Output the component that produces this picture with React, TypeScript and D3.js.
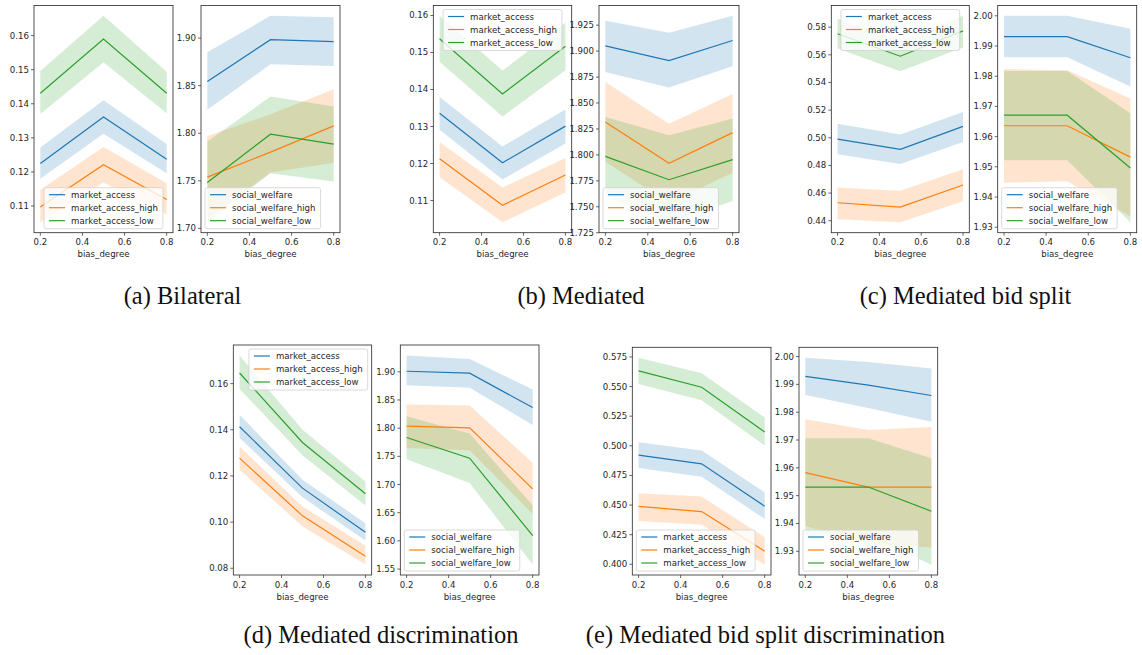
import { useEffect, useRef } from 'react';
import * as d3 from 'd3';

type Series = { name: string; mean: number[]; lower: number[]; upper: number[] };

const BIAS_DEGREE = [0.2, 0.5, 0.8];
const X_TICKS = [0.2, 0.4, 0.6, 0.8];
const COLORS = ['#1f77b4', '#ff7f0e', '#2ca02c'];

// (a) Bilateral
const bilateralMarket: Series[] = [
  { name: 'market_access', mean: [0.1225, 0.1361, 0.1237], lower: [0.118, 0.1312, 0.1196], upper: [0.1272, 0.141, 0.1282] },
  { name: 'market_access_high', mean: [0.1097, 0.1221, 0.1119], lower: [0.1052, 0.1169, 0.1075], upper: [0.1148, 0.1273, 0.1167] },
  { name: 'market_access_low', mean: [0.1431, 0.159, 0.1431], lower: [0.137, 0.1522, 0.1372], upper: [0.1496, 0.1658, 0.1494] },
];
const bilateralWelfare: Series[] = [
  { name: 'social_welfare', mean: [1.8545, 1.8983, 1.8962], lower: [1.8248, 1.8724, 1.8706], upper: [1.885, 1.9234, 1.922] },
  { name: 'social_welfare_high', mean: [1.7538, 1.7801, 1.8077], lower: [1.711, 1.7587, 1.7689], upper: [1.7969, 1.82, 1.8462] },
  { name: 'social_welfare_low', mean: [1.7483, 1.799, 1.7885], lower: [1.7063, 1.758, 1.7493], upper: [1.7913, 1.8385, 1.828] },
];

// (b) Mediated
const mediatedMarket: Series[] = [
  { name: 'market_access', mean: [0.1336, 0.1202, 0.1301], lower: [0.1291, 0.1157, 0.1254], upper: [0.138, 0.1246, 0.1346] },
  { name: 'market_access_high', mean: [0.1213, 0.1087, 0.1169], lower: [0.1163, 0.1041, 0.1122], upper: [0.1258, 0.1135, 0.1215] },
  { name: 'market_access_low', mean: [0.1537, 0.1388, 0.1517], lower: [0.1475, 0.1327, 0.1452], upper: [0.1599, 0.1451, 0.158] },
];
const mediatedWelfare: Series[] = [
  { name: 'social_welfare', mean: [1.9051, 1.8909, 1.9102], lower: [1.88, 1.8649, 1.8854], upper: [1.9292, 1.9176, 1.934] },
  { name: 'social_welfare_high', mean: [1.8317, 1.7919, 1.8215], lower: [1.7935, 1.754, 1.7829], upper: [1.8703, 1.8301, 1.8588] },
  { name: 'social_welfare_low', mean: [1.7986, 1.7761, 1.7954], lower: [1.7606, 1.735, 1.7555], upper: [1.8366, 1.8189, 1.835] },
];

// (c) Mediated bid split
const bidSplitMarket: Series[] = [
  { name: 'market_access', mean: [0.499, 0.4916, 0.5082], lower: [0.488, 0.481, 0.4969], upper: [0.5101, 0.5024, 0.5186] },
  { name: 'market_access_high', mean: [0.453, 0.4499, 0.4658], lower: [0.441, 0.4388, 0.454], upper: [0.4641, 0.4617, 0.4773] },
  { name: 'market_access_low', mean: [0.5752, 0.559, 0.5773], lower: [0.5645, 0.5482, 0.5653], upper: [0.586, 0.5698, 0.5882] },
];
const bidSplitWelfare: Series[] = [
  { name: 'social_welfare', mean: [1.9931, 1.9931, 1.9861], lower: [1.9863, 1.9863, 1.9766], upper: [2.0, 2.0, 1.9957] },
  { name: 'social_welfare_high', mean: [1.9636, 1.9636, 1.9532], lower: [1.9447, 1.9452, 1.9336], upper: [1.9824, 1.982, 1.9726] },
  { name: 'social_welfare_low', mean: [1.9671, 1.9671, 1.9496], lower: [1.9522, 1.9522, 1.9316], upper: [1.9817, 1.9817, 1.9677] },
];

// (d) Mediated discrimination
const discriminationMarket: Series[] = [
  { name: 'market_access', mean: [0.1413, 0.1147, 0.0956], lower: [0.1364, 0.1108, 0.092], upper: [0.1465, 0.1183, 0.0995] },
  { name: 'market_access_high', mean: [0.1277, 0.1027, 0.0852], lower: [0.1227, 0.0981, 0.0816], upper: [0.1327, 0.1068, 0.0897] },
  { name: 'market_access_low', mean: [0.1646, 0.1345, 0.1123], lower: [0.1577, 0.129, 0.1072], upper: [0.1722, 0.14, 0.1176] },
];
const discriminationWelfare: Series[] = [
  { name: 'social_welfare', mean: [1.901, 1.8975, 1.8365], lower: [1.8762, 1.8717, 1.8057], upper: [1.929, 1.9226, 1.8687] },
  { name: 'social_welfare_high', mean: [1.8036, 1.8004, 1.6922], lower: [1.765, 1.7609, 1.648], upper: [1.8421, 1.8403, 1.7384] },
  { name: 'social_welfare_low', mean: [1.7834, 1.7467, 1.6092], lower: [1.745, 1.7028, 1.558], upper: [1.8213, 1.7905, 1.6626] },
];

// (e) Mediated bid split discrimination
const bidSplitDiscMarket: Series[] = [
  { name: 'market_access', mean: [0.4921, 0.4848, 0.449], lower: [0.4812, 0.4738, 0.4383], upper: [0.5031, 0.4961, 0.4606] },
  { name: 'market_access_high', mean: [0.4488, 0.4445, 0.411], lower: [0.4366, 0.4333, 0.3997], upper: [0.46, 0.4572, 0.4228] },
  { name: 'market_access_low', mean: [0.5632, 0.5494, 0.5116], lower: [0.5522, 0.5384, 0.5003], upper: [0.5744, 0.5612, 0.524] },
];
const bidSplitDiscWelfare: Series[] = [
  { name: 'social_welfare', mean: [1.9929, 1.9897, 1.986], lower: [1.9862, 1.9815, 1.9766], upper: [1.9996, 1.998, 1.9957] },
  { name: 'social_welfare_high', mean: [1.9583, 1.9531, 1.9531], lower: [1.9391, 1.9326, 1.9314], upper: [1.9775, 1.9736, 1.9747] },
  { name: 'social_welfare_low', mean: [1.9531, 1.9531, 1.9444], lower: [1.9356, 1.9356, 1.9252], upper: [1.9706, 1.9706, 1.9634] },
];

const ticksMarketSmall = [0.11, 0.12, 0.13, 0.14, 0.15, 0.16];
const ticksWelfareA = [1.7, 1.75, 1.8, 1.85, 1.9];
const ticksWelfareB = [1.725, 1.75, 1.775, 1.8, 1.825, 1.85, 1.875, 1.9, 1.925];
const ticksMarketC = [0.44, 0.46, 0.48, 0.5, 0.52, 0.54, 0.56, 0.58];
const ticksWelfareHigh = [1.93, 1.94, 1.95, 1.96, 1.97, 1.98, 1.99, 2.0];
const ticksMarketD = [0.08, 0.1, 0.12, 0.14, 0.16];
const ticksWelfareD = [1.55, 1.6, 1.65, 1.7, 1.75, 1.8, 1.85, 1.9];
const ticksMarketE = [0.4, 0.425, 0.45, 0.475, 0.5, 0.525, 0.55, 0.575];

const CAPTIONS = [
  '(a) Bilateral',
  '(b) Mediated',
  '(c) Mediated bid split',
  '(d) Mediated discrimination',
  '(e) Mediated bid split discrimination',
];

// layout of each subfigure (pixels)
const SUBFIGS = [
  { cx: 182.5, base: 304, top: 5.5, bottom: 232.7, L: [34, 173], R: [201, 340] },
  { cx: 581, base: 304, top: 5.5, bottom: 232.7, L: [433.3, 571.7], R: [599, 739] },
  { cx: 965.5, base: 304, top: 5.5, bottom: 232.7, L: [831.3, 969.3], R: [997.7, 1136.7] },
  { cx: 381, base: 643, top: 345, bottom: 575, L: [233.3, 371.7], R: [400.3, 539] },
  { cx: 765.5, base: 643, top: 347.3, bottom: 575, L: [632.3, 771], R: [799, 937.7] },
];

const PANELS = [
  { sub: 0, side: 'L', data: bilateralMarket, ticks: ticksMarketSmall, fmt: '.2f', legend: 'lower center' },
  { sub: 0, side: 'R', data: bilateralWelfare, ticks: ticksWelfareA, fmt: '.2f', legend: 'lower left' },
  { sub: 1, side: 'L', data: mediatedMarket, ticks: ticksMarketSmall, fmt: '.2f', legend: 'upper center' },
  { sub: 1, side: 'R', data: mediatedWelfare, ticks: ticksWelfareB, fmt: '.3f', legend: 'lower left' },
  { sub: 2, side: 'L', data: bidSplitMarket, ticks: ticksMarketC, fmt: '.2f', legend: 'upper center' },
  { sub: 2, side: 'R', data: bidSplitWelfare, ticks: ticksWelfareHigh, fmt: '.2f', legend: 'lower left' },
  { sub: 3, side: 'L', data: discriminationMarket, ticks: ticksMarketD, fmt: '.2f', legend: 'upper right' },
  { sub: 3, side: 'R', data: discriminationWelfare, ticks: ticksWelfareD, fmt: '.2f', legend: 'lower left' },
  { sub: 4, side: 'L', data: bidSplitDiscMarket, ticks: ticksMarketE, fmt: '.3f', legend: 'lower left' },
  { sub: 4, side: 'R', data: bidSplitDiscWelfare, ticks: ticksWelfareHigh, fmt: '.2f', legend: 'lower left' },
];

const FONT = 'DejaVu Sans, sans-serif';
const FS = 8.6;
const INK = '#262626';

export default function App() {
  const ref = useRef<SVGSVGElement>(null);

  useEffect(() => {
    if (!ref.current) return;
    const svg = d3.select(ref.current);
    svg.selectAll('*').remove();
    svg.append('rect').attr('width', 1142).attr('height', 655).attr('fill', '#fff');

    PANELS.forEach(p => {
      const sf = SUBFIGS[p.sub];
      const [x0, x1] = p.side === 'L' ? sf.L : sf.R;
      const { top, bottom } = sf;

      const x = d3.scaleLinear().domain([0.17, 0.83]).range([x0, x1]);
      const lo = d3.min(p.data, s => d3.min(s.lower)) as number;
      const hi = d3.max(p.data, s => d3.max(s.upper)) as number;
      const pad = (hi - lo) * 0.05;
      const y = d3.scaleLinear().domain([lo - pad, hi + pad]).range([bottom, top]);

      const g = svg.append('g');
      const clipId = `clip-${p.sub}-${p.side}`;
      g.append('clipPath').attr('id', clipId)
        .append('rect').attr('x', x0).attr('y', top).attr('width', x1 - x0).attr('height', bottom - top);
      const plot = g.append('g').attr('clip-path', `url(#${clipId})`);

      // bands first, then lines (matplotlib zorder)
      p.data.forEach((s, k) => {
        const band = d3.area<number>()
          .x(d => x(d))
          .y0((_, i) => y(s.lower[i]))
          .y1((_, i) => y(s.upper[i]));
        plot.append('path').attr('d', band(BIAS_DEGREE) as string)
          .attr('fill', COLORS[k]).attr('fill-opacity', 0.2);
      });
      p.data.forEach((s, k) => {
        const line = d3.line<number>().x(d => x(d)).y((_, i) => y(s.mean[i]));
        plot.append('path').attr('d', line(BIAS_DEGREE) as string)
          .attr('fill', 'none').attr('stroke', COLORS[k]).attr('stroke-width', 1.2);
      });

      // frame
      g.append('rect').attr('x', x0).attr('y', top).attr('width', x1 - x0).attr('height', bottom - top)
        .attr('fill', 'none').attr('stroke', INK).attr('stroke-width', 0.8);

      // x ticks
      X_TICKS.forEach(t => {
        g.append('line').attr('x1', x(t)).attr('x2', x(t)).attr('y1', bottom).attr('y2', bottom + 3)
          .attr('stroke', INK).attr('stroke-width', 0.7);
        g.append('text').attr('x', x(t)).attr('y', bottom + 12.5).attr('text-anchor', 'middle')
          .attr('font-family', FONT).attr('font-size', FS).attr('fill', INK).text(d3.format('.1f')(t));
      });
      g.append('text').attr('x', (x0 + x1) / 2).attr('y', bottom + 24.5).attr('text-anchor', 'middle')
        .attr('font-family', FONT).attr('font-size', FS).attr('fill', INK).text('bias_degree');

      // y ticks
      const yf = d3.format(p.fmt);
      p.ticks.forEach(t => {
        g.append('line').attr('x1', x0 - 3).attr('x2', x0).attr('y1', y(t)).attr('y2', y(t))
          .attr('stroke', INK).attr('stroke-width', 0.7);
        g.append('text').attr('x', x0 - 5).attr('y', y(t)).attr('dy', '0.35em').attr('text-anchor', 'end')
          .attr('font-family', FONT).attr('font-size', FS).attr('fill', INK).text(yf(t));
      });

      // legend
      const lg = g.append('g');
      const box = lg.append('rect');
      const labels = p.data.map((s, k) =>
        lg.append('text').attr('font-family', FONT).attr('font-size', FS).attr('fill', INK)
          .attr('x', 27).attr('y', 7 + 13 * k).attr('dy', '0.35em').text(s.name));
      p.data.forEach((_, k) => {
        lg.append('line').attr('x1', 5).attr('x2', 21).attr('y1', 7 + 13 * k).attr('y2', 7 + 13 * k)
          .attr('stroke', COLORS[k]).attr('stroke-width', 1.2);
      });
      const tw = d3.max(labels, t => (t.node() as SVGTextElement).getComputedTextLength()) as number;
      const lw = 27 + tw + 5;
      const lh = 41;
      box.attr('width', lw).attr('height', lh).attr('rx', 2)
        .attr('fill', '#fff').attr('fill-opacity', 0.8).attr('stroke', '#d0d0d0').attr('stroke-width', 0.8);
      const gap = 4;
      let lx = x0 + gap;
      let ly = bottom - gap - lh;
      if (p.legend.includes('center')) lx = (x0 + x1) / 2 - lw / 2;
      if (p.legend.includes('right')) lx = x1 - gap - lw;
      if (p.legend.includes('upper')) ly = top + gap;
      lg.attr('transform', `translate(${lx},${ly})`);
    });

    SUBFIGS.forEach((sf, i) => {
      svg.append('text').attr('x', sf.cx).attr('y', sf.base).attr('text-anchor', 'middle')
        .attr('font-family', 'Liberation Serif, serif').attr('font-size', 24.5).attr('fill', '#111')
        .text(CAPTIONS[i]);
    });
  }, []);

  return (
    <svg ref={ref} width={1142} height={655}
      style={{ position: 'absolute', left: 0, top: 0, display: 'block' }} />
  );
}
